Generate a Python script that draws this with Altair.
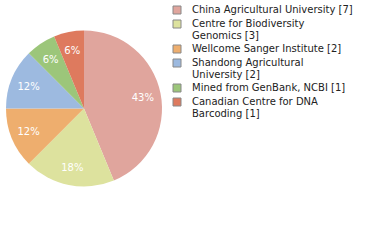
import altair as alt
import pandas as pd

# Records per depositing institution
institutions = [
    "China Agricultural University [7]",
    "Centre for Biodiversity|Genomics [3]",
    "Wellcome Sanger Institute [2]",
    "Shandong Agricultural|University [2]",
    "Mined from GenBank, NCBI [1]",
    "Canadian Centre for DNA|Barcoding [1]",
]
counts = [7, 3, 2, 2, 1, 1]
colors = ["#E0A59D", "#DDE29E", "#EEAE6E", "#9DBAE0", "#9CC67A", "#DE7A5E"]

df = pd.DataFrame({"institution": institutions, "count": counts, "order": range(len(counts))})

color = alt.Color(
    "institution:N",
    scale=alt.Scale(domain=institutions, range=colors),
    sort=institutions,
    legend=alt.Legend(
        title=None,
        orient="none",
        legendX=172,
        legendY=5,
        symbolType="square",
        symbolSize=64,
        symbolStrokeColor="#888888",
        symbolStrokeWidth=1,
        symbolOpacity=1,
        labelFont="DejaVu Sans",
        labelFontSize=10,
        labelColor="#222222",
        labelLimit=300,
        labelOffset=10,
        labelExpr="split(datum.label, '|')",
        rowPadding=2,
    ),
)

base = alt.Chart(df).encode(
    theta=alt.Theta("count:Q", stack=True),
    order=alt.Order("order:Q"),
    x=alt.value(84),
    y=alt.value(108.5),
)

pie = base.mark_arc(radius=78).encode(color=color)

labels = base.transform_joinaggregate(
    total="sum(count)"
).transform_calculate(
    pct="floor(datum.count / datum.total * 100) + '%'"
).mark_text(
    radius=60, font="DejaVu Sans", fontSize=10, color="white", dy=1
).encode(text="pct:N")

chart = alt.layer(pie, labels).properties(
    width=380, height=240, autosize=alt.AutoSizeParams(type="none"), padding=0
).configure_view(stroke=None)

chart.save("out.html", embed_options={"renderer": "svg", "actions": False})
